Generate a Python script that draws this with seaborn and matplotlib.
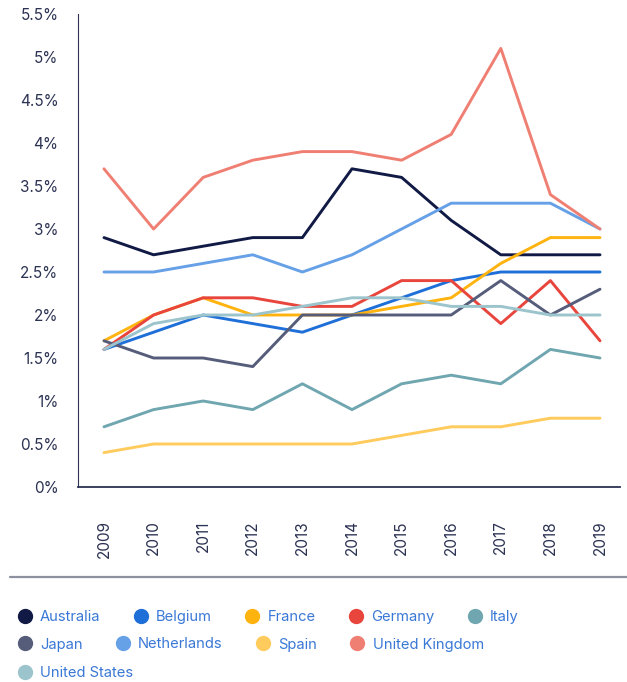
import matplotlib
matplotlib.use("Agg")
import matplotlib.pyplot as plt
from matplotlib.lines import Line2D
import seaborn as sns
import pandas as pd

years = [2009, 2010, 2011, 2012, 2013, 2014, 2015, 2016, 2017, 2018, 2019]

australia = [2.9, 2.7, 2.8, 2.9, 2.9, 3.7, 3.6, 3.1, 2.7, 2.7, 2.7]
belgium = [1.6, 1.8, 2.0, 1.9, 1.8, 2.0, 2.2, 2.4, 2.5, 2.5, 2.5]
france = [1.7, 2.0, 2.2, 2.0, 2.0, 2.0, 2.1, 2.2, 2.6, 2.9, 2.9]
germany = [1.6, 2.0, 2.2, 2.2, 2.1, 2.1, 2.4, 2.4, 1.9, 2.4, 1.7]
italy = [0.7, 0.9, 1.0, 0.9, 1.2, 0.9, 1.2, 1.3, 1.2, 1.6, 1.5]
japan = [1.7, 1.5, 1.5, 1.4, 2.0, 2.0, 2.0, 2.0, 2.4, 2.0, 2.3]
netherlands = [2.5, 2.5, 2.6, 2.7, 2.5, 2.7, 3.0, 3.3, 3.3, 3.3, 3.0]
spain = [0.4, 0.5, 0.5, 0.5, 0.5, 0.5, 0.6, 0.7, 0.7, 0.8, 0.8]
united_kingdom = [3.7, 3.0, 3.6, 3.8, 3.9, 3.9, 3.8, 4.1, 5.1, 3.4, 3.0]
united_states = [1.6, 1.9, 2.0, 2.0, 2.1, 2.2, 2.2, 2.1, 2.1, 2.0, 2.0]

countries = ["Australia", "Belgium", "France", "Germany", "Italy",
             "Japan", "Netherlands", "Spain", "United Kingdom", "United States"]
series = [australia, belgium, france, germany, italy,
          japan, netherlands, spain, united_kingdom, united_states]
colors = ["#111a45", "#1f6fd8", "#ffb30f", "#e8453c", "#6fa6b0",
          "#565d7a", "#66a0e6", "#ffcb5c", "#f07f73", "#9cc4cc"]

y_ticks = [0, 0.5, 1, 1.5, 2, 2.5, 3, 3.5, 4, 4.5, 5, 5.5]
y_tick_labels = ["0%", "0.5%", "1%", "1.5%", "2%", "2.5%", "3%",
                 "3.5%", "4%", "4.5%", "5%", "5.5%"]

df = pd.DataFrame(
    [(c, y, v) for c, vals in zip(countries, series) for y, v in zip(years, vals)],
    columns=["country", "year", "value"],
)

sns.set_style("white")
plt.rcParams["font.family"] = ["Inter", "DejaVu Sans"]

W, H = 627, 682
fig = plt.figure(figsize=(W / 100, H / 100), dpi=100)

ax_left, ax_right, ax_top, ax_bottom = 78, 620, 14, 487
ax = fig.add_axes([ax_left / W, 1 - ax_bottom / H,
                   (ax_right - ax_left) / W, (ax_bottom - ax_top) / H])

palette = dict(zip(countries, colors))
sns.lineplot(data=df, x="year", y="value", hue="country", palette=palette,
             hue_order=countries, linewidth=2.1, legend=False, ax=ax)

ax.set_xlim(2008.476, 2019.403)
ax.set_ylim(0, 5.5)
ax.set_xticks(years)
ax.set_xticklabels([str(y) for y in years], rotation=90)
ax.set_yticks(y_ticks)
ax.set_yticklabels(y_tick_labels)
ax.set_xlabel("")
ax.set_ylabel("")

tick_color = "#2b3252"
ax.tick_params(axis="y", length=0, pad=14, labelsize=11, labelcolor=tick_color)
ax.tick_params(axis="x", length=0, pad=24, labelsize=11, labelcolor=tick_color)

for side in ["top", "right"]:
    ax.spines[side].set_visible(False)
ax.spines["left"].set_color("#2b3252")
ax.spines["left"].set_linewidth(0.8)
ax.spines["bottom"].set_color("#2b3252")
ax.spines["bottom"].set_linewidth(1.3)

# separator rule between chart and legend
fig.add_artist(Line2D([10 / W, 1.0], [1 - 577 / H, 1 - 577 / H],
                      transform=fig.transFigure, color="#8d919f", linewidth=1.6))

# legend laid out as flowing rows
rows = [countries[0:5], countries[5:9], countries[9:10]]
row_y = [617, 644.5, 673]
legend_text = "#3a78d6"
for names, yy in zip(rows, row_y):
    handles = [Line2D([], [], linestyle="none", marker="o", markersize=10,
                      markerfacecolor=palette[n], markeredgecolor=palette[n])
               for n in names]
    leg = fig.legend(handles, names, loc="center left",
                     bbox_to_anchor=(17.5 / W, 1 - yy / H), ncol=len(names),
                     frameon=False, fontsize=10.6, handlelength=1.0,
                     handletextpad=0.52, columnspacing=2.25, borderpad=0,
                     borderaxespad=0)
    for t in leg.get_texts():
        t.set_color(legend_text)

fig.savefig("out.png", dpi=100)
